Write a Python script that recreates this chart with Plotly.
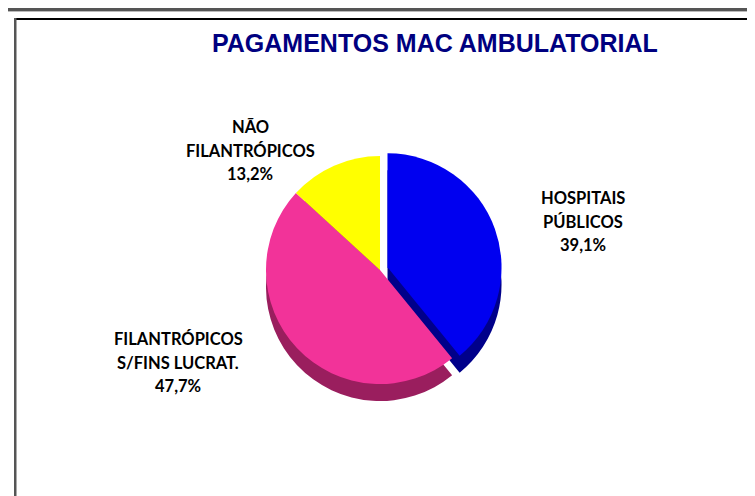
import plotly.graph_objects as go

labels = ["HOSPITAIS<br>PÚBLICOS", "FILANTRÓPICOS<br>S/FINS LUCRAT.", "NÃO<br>FILANTRÓPICOS"]
values = [39.1, 47.7, 13.2]
colors = ["#0000F0", "#F23399", "#FFFF00"]
side_colors = ["#00008A", "#9A1E5E", "#8A8A00"]
pulls = [0.07, 0, 0]
title = "PAGAMENTOS MAC AMBULATORIAL"

W, H = 755, 496
def px(x): return x / W
def py(y): return 1 - y / H

cx, cy, r = 372, 262, 122
depth = 17

fig = go.Figure()
# lower "side" pie for a depth effect
fig.add_trace(go.Pie(
    values=values, labels=labels, sort=False, direction="clockwise", rotation=0,
    marker=dict(colors=side_colors, line=dict(width=0)), pull=pulls,
    textinfo="none", hoverinfo="skip", showlegend=False,
    domain=dict(x=[px(cx - r), px(cx + r)], y=[py(cy + depth + r), py(cy + depth - r)]),
))
fig.add_trace(go.Pie(
    values=values, labels=labels, sort=False, direction="clockwise", rotation=0,
    marker=dict(colors=colors, line=dict(width=0)), pull=pulls,
    textinfo="none", showlegend=False,
    domain=dict(x=[px(cx - r), px(cx + r)], y=[py(cy + r), py(cy - r)]),
))

# (center x, first line y) for each label block, line spacing 23.5px
label_pos = [(575, 190), (170, 331), (242, 119)]
for lab, v, (lx, ly) in zip(labels, values, label_pos):
    lines = lab.split("<br>") + [f"{v:.1f}".replace(".", ",") + "%"]
    for i, t in enumerate(lines):
        fig.add_annotation(
            x=px(lx), y=py(ly + i * 23.5), xref="paper", yref="paper",
            xanchor="center", yanchor="middle",
            text=f"<b>{t}</b>", showarrow=False, align="center",
            font=dict(family="Lato, 'Noto Sans', sans-serif", size=16.5, color="#000000"),
        )

fig.add_annotation(
    x=px(427), y=py(35), xref="paper", yref="paper", xanchor="center", yanchor="middle",
    text=f"<b>{title}</b>", showarrow=False,
    font=dict(family="Liberation Sans, Arial, sans-serif", size=25, color="#000080"),
)

shapes = [
    dict(type="rect", xref="paper", yref="paper", x0=0, x1=1, y0=py(3), y1=1,
         fillcolor="#555555", line=dict(width=0), layer="above"),
    dict(type="rect", xref="paper", yref="paper", x0=0, x1=1, y0=py(4), y1=py(3),
         fillcolor="#BBBBBB", line=dict(width=0), layer="above"),
    dict(type="rect", xref="paper", yref="paper", x0=px(8), x1=1, y0=py(12), y1=py(10),
         fillcolor="#000000", line=dict(width=0), layer="above"),
    dict(type="rect", xref="paper", yref="paper", x0=px(6), x1=px(8.5), y0=0, y1=py(10),
         fillcolor="#555555", line=dict(width=0), layer="above"),
]

fig.update_layout(
    width=W, height=H, margin=dict(l=0, r=0, t=0, b=0),
    paper_bgcolor="white", plot_bgcolor="white", showlegend=False, shapes=shapes,
)
fig.write_html("out.html")
